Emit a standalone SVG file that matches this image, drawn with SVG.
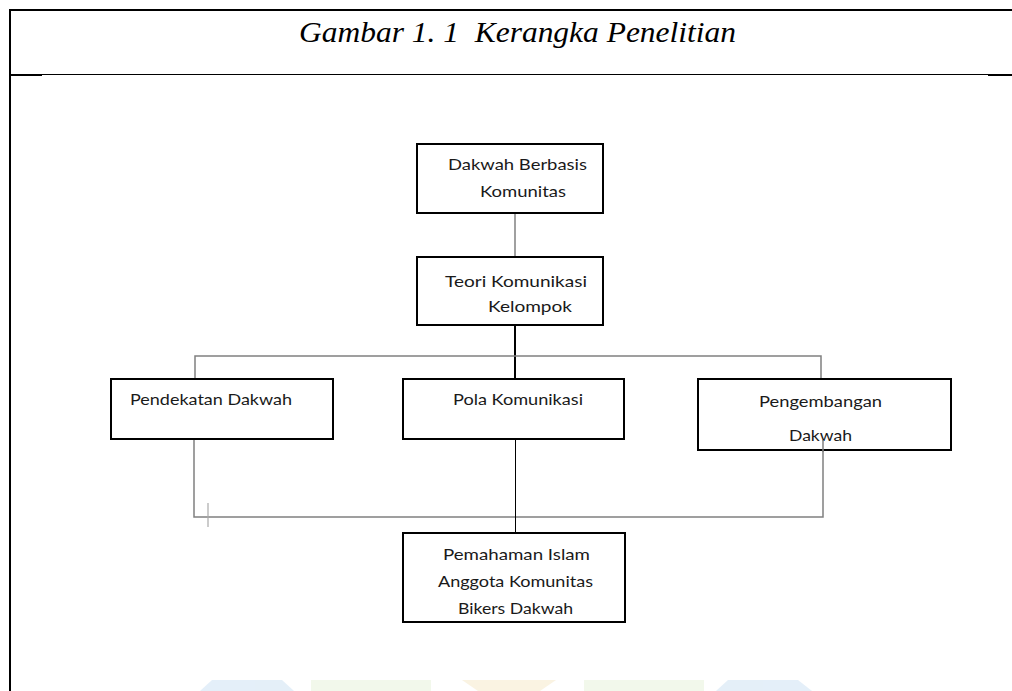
<svg xmlns="http://www.w3.org/2000/svg" width="1012" height="691" viewBox="0 0 1012 691">
<style>
.box{fill:#fff;stroke:#000;stroke-width:2}
.t{font-family:Lato,"Liberation Sans",sans-serif;font-size:16px;fill:#1a1a1a}
.g{fill:none;stroke:#808080;stroke-width:1.5}
.k{fill:none;stroke:#000}
.title{font-family:"Liberation Serif","Times New Roman",serif;font-style:italic;font-size:30px;fill:#000}
</style>
<rect width="1012" height="691" fill="#fff"/>
<g id="frame">
<line x1="9" y1="10" x2="1012" y2="10" stroke="#000" stroke-width="2"/>
<line x1="10" y1="9" x2="10" y2="691" stroke="#000" stroke-width="2"/>
<line x1="10" y1="74.5" x2="1012" y2="74.5" stroke="#000" stroke-width="1"/>
<line x1="10" y1="75" x2="42" y2="75" stroke="#000" stroke-width="2"/>
<line x1="988" y1="75" x2="1012" y2="75" stroke="#000" stroke-width="2"/>
<text class="title" x="299" y="42" textLength="437" lengthAdjust="spacingAndGlyphs" xml:space="preserve">Gambar 1. 1  Kerangka Penelitian</text>
</g>
<g id="watermark" opacity="0.4">
<polygon points="212,680 282,680 294,691 200,691" fill="#bcd8f0"/>
<rect x="311" y="680" width="120" height="11" fill="#dff0cf"/>
<polygon points="462,680 556,680 540,691 478,691" fill="#f3e2b8"/>
<rect x="584" y="680" width="120" height="11" fill="#dff0cf"/>
<polygon points="728,680 798,680 812,691 716,691" fill="#bcd8f0"/>
</g>
<g id="connectors">
<line class="g" x1="515" y1="213" x2="515" y2="257"/>
<line class="k" stroke-width="2" x1="515" y1="325" x2="515" y2="379"/>
<polyline class="g" points="195,379 195,356 821,356 821,379"/>
<polyline class="g" points="194,439 194,517 823,517 823,440"/>
<line x1="208" y1="503" x2="208" y2="527" stroke="#aaa" stroke-width="1.2"/>
<line class="k" stroke-width="1" x1="515.5" y1="439" x2="515.5" y2="533"/>
</g>
<g id="n1">
<rect class="box" x="417" y="144" width="186" height="69"/>
<text class="t" x="448" y="170" textLength="139" lengthAdjust="spacingAndGlyphs">Dakwah Berbasis</text>
<text class="t" x="480" y="197" textLength="86" lengthAdjust="spacingAndGlyphs">Komunitas</text>
</g>
<g id="n2">
<rect class="box" x="417" y="257" width="186" height="68"/>
<text class="t" x="445" y="287" textLength="142" lengthAdjust="spacingAndGlyphs">Teori Komunikasi</text>
<text class="t" x="488" y="312" textLength="84" lengthAdjust="spacingAndGlyphs">Kelompok</text>
</g>
<g id="n3">
<rect class="box" x="111" y="379" width="222" height="60"/>
<text class="t" x="130" y="405" textLength="162" lengthAdjust="spacingAndGlyphs">Pendekatan Dakwah</text>
</g>
<g id="n4">
<rect class="box" x="403" y="379" width="221" height="60"/>
<text class="t" x="453" y="405" textLength="130" lengthAdjust="spacingAndGlyphs">Pola Komunikasi</text>
</g>
<g id="n5">
<rect class="box" x="698" y="379" width="253" height="71" fill="none"/>
<text class="t" x="759" y="407" textLength="123" lengthAdjust="spacingAndGlyphs">Pengembangan</text>
<text class="t" x="789" y="441" textLength="63" lengthAdjust="spacingAndGlyphs">Dakwah</text>
</g>
<line class="g" x1="823" y1="440" x2="823" y2="452"/>
<g id="n6">
<rect class="box" x="403" y="533" width="222" height="89"/>
<text class="t" x="443" y="560" textLength="147" lengthAdjust="spacingAndGlyphs">Pemahaman Islam</text>
<text class="t" x="438" y="587" textLength="155" lengthAdjust="spacingAndGlyphs">Anggota Komunitas</text>
<text class="t" x="458" y="614" textLength="115" lengthAdjust="spacingAndGlyphs">Bikers Dakwah</text>
</g>
</svg>
